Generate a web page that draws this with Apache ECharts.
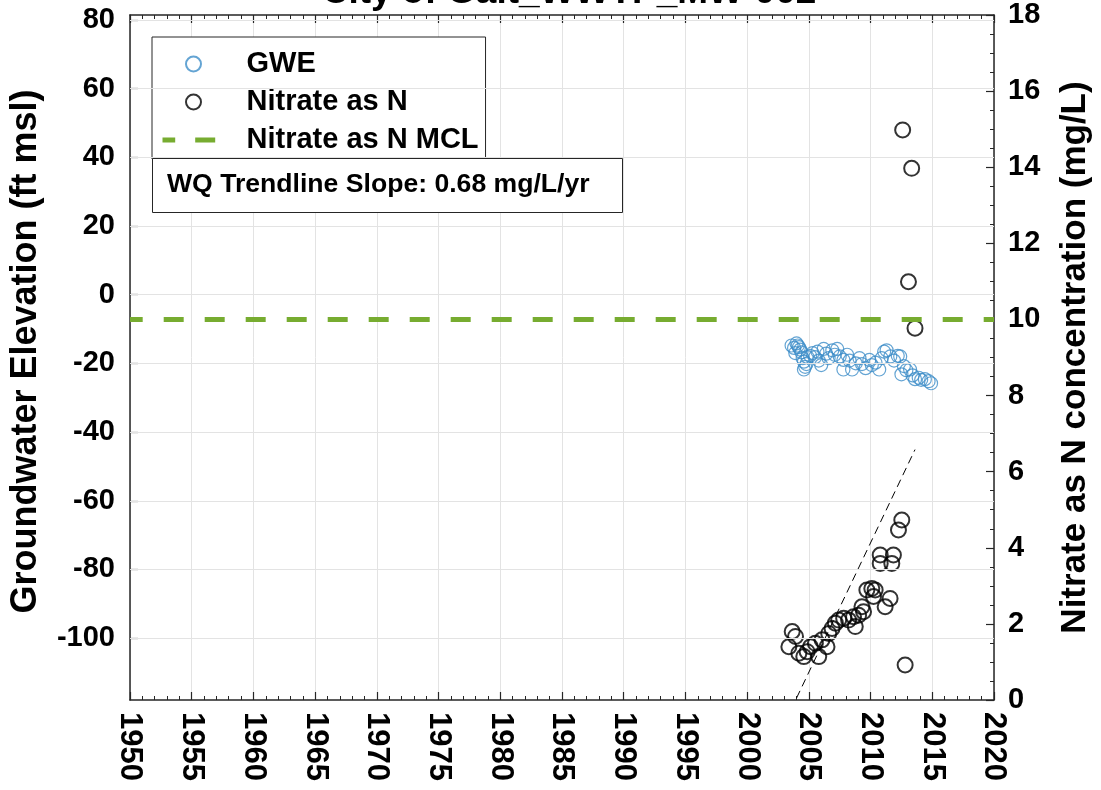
<!DOCTYPE html>
<html>
<head>
<meta charset="utf-8">
<script src="https://cdn.jsdelivr.net/npm/echarts@6/dist/echarts.min.js"></script>
<style>
html,body{margin:0;padding:0;background:#fff;}
#chart{width:1101px;height:790px;}
</style>
</head>
<body>
<div id="chart"></div>
<script>
// ---- data ----
const gweYears = [2003.6,2003.8,2003.9,2004.0,2004.1,2004.2,2004.3,2004.4,2004.5,2004.6,2004.7,2004.8,2004.6,2004.9,2005.1,2005.3,2005.5,2005.7,2005.8,2006.0,2006.2,2006.4,2006.6,2006.9,2007.1,2007.3,2007.5,2007.8,2007.8,2008.1,2008.3,2008.5,2008.8,2009.1,2009.3,2009.6,2009.9,2010.1,2010.4,2010.7,2010.9,2011.1,2011.3,2011.6,2011.9,2012.2,2012.4,2012.5,2012.7,2012.9,2013.2,2013.4,2013.6,2013.9,2014.1,2014.4,2014.7,2014.9];
const gweValues = [-14.8,-15.5,-17.0,-14.2,-14.8,-15.3,-16.0,-16.8,-18.5,-19.5,-21.0,-20.2,-21.8,-18.2,-17.8,-17.0,-18.2,-16.6,-19.2,-20.5,-15.8,-17.2,-18.5,-16.2,-17.5,-15.8,-18.0,-19.0,-21.8,-17.5,-19.2,-21.8,-20.0,-18.5,-20.2,-21.4,-19.0,-20.5,-19.8,-21.8,-18.5,-16.6,-16.2,-18.0,-19.2,-17.8,-18.0,-23.2,-20.8,-22.0,-21.8,-23.5,-24.6,-24.2,-24.8,-24.6,-25.2,-25.8];
const nitrateYears = [2003.65,2003.92,2003.38,2004.19,2004.59,2004.86,2005.13,2005.53,2005.8,2006.07,2006.47,2006.61,2006.88,2007.15,2007.42,2007.82,2008.22,2008.62,2008.76,2009.03,2009.3,2009.43,2009.7,2010.1,2010.37,2010.24,2011.18,2011.58,2010.78,2010.78,2011.85,2011.72,2012.26,2012.53,2012.8,2012.6,2013.33,2013.07,2013.6];
const nitrateValues = [1.80,1.67,1.40,1.23,1.14,1.27,1.40,1.49,1.14,1.58,1.40,1.75,1.88,2.02,2.10,2.15,2.10,2.19,1.93,2.23,2.45,2.32,2.89,2.93,2.89,2.72,2.45,2.67,3.81,3.59,3.81,3.59,4.47,4.73,0.92,14.98,13.97,10.99,9.77];
const trendYears = [2004.0, 2013.6];
const trendValues = [0.05, 6.58];
const mclYears = [1950, 2020];
const mclValue = 10;
const leftTicks = [-100,-80,-60,-40,-20,0,20,40,60,80];
const legendNames = ['GWE','Nitrate as N','Nitrate as N MCL'];
const slopeText = 'WQ Trendline Slope: 0.68 mg/L/yr';
const titleText = 'City of Galt_WWTP_MW-002';
const leftName = 'Groundwater Elevation (ft msl)';
const rightName = 'Nitrate as N concentration (mg/L)';

const FONT = "'Liberation Sans', Arial, sans-serif";
const AX = '#262626';
const GRID = '#e3e3e3';
const GREEN = '#77AC30';

const chart = echarts.init(document.getElementById('chart'), null, {renderer:'canvas'});
const gridL = 130, gridT = 15, gridR = 1101-998, gridB = 790-700;

const option = {
  backgroundColor: '#fff',
  animation: false,
  title: {
    text: titleText, left: 564, textAlign: 'center', top: -31,
    textStyle: {fontFamily: FONT, fontWeight: 'bold', fontSize: 37, color: '#000'}
  },
  grid: {left: gridL, top: gridT, right: gridR, bottom: gridB, containLabel: false},
  legend: {
    orient: 'vertical', left: 152, top: 37,
    data: [
      {name: legendNames[0]},
      {name: legendNames[1]},
      {name: legendNames[2], itemStyle: {opacity: 0}, lineStyle: {width: 5, color: GREEN, type: [20, 20], cap: 'butt'}}
    ],
    backgroundColor: '#fff', borderColor: AX, borderWidth: 1,
    padding: [12, 7, 4, 8],
    itemWidth: 62, itemHeight: 15, itemGap: 8,
    textStyle: {fontFamily: FONT, fontWeight: 'bold', fontSize: 29, color: '#000', lineHeight: 30, padding: [0,0,0,17]},
    selectedMode: false
  },
  xAxis: [{
    type: 'value', min: 1950, max: 2020, interval: 5, position: 'bottom',
    axisLine: {show: true, onZero: false, lineStyle: {color: AX, width: 1.5}},
    axisTick: {show: true, inside: true, length: 8, lineStyle: {color: AX, width: 1.2}},
    minorTick: {show: true, splitNumber: 5, length: 4, lineStyle: {color: AX, width: 1}},
    splitLine: {show: true, lineStyle: {color: GRID, width: 1}},
    axisLabel: {rotate: -90, margin: 12, fontFamily: FONT, fontWeight: 'bold', fontSize: 31, color: '#000', formatter: v => String(v)}
  },{
    type: 'value', min: 1950, max: 2020, interval: 5, position: 'top',
    axisLine: {show: true, onZero: false, lineStyle: {color: AX, width: 1.5}},
    axisTick: {show: true, inside: true, length: 8, lineStyle: {color: AX, width: 1.2}},
    minorTick: {show: true, splitNumber: 5, length: 4, lineStyle: {color: AX, width: 1}},
    splitLine: {show: false},
    axisLabel: {show: false}
  }],
  yAxis: [{
    type: 'value', min: -118, max: 81.4, position: 'left',
    name: leftName, nameLocation: 'middle', nameGap: 86, nameRotate: 90,
    nameTextStyle: {fontFamily: FONT, fontWeight: 'bold', fontSize: 36, color: '#000', padding: [0, 0, 0, 12]},
    axisLine: {show: true, onZero: false, lineStyle: {color: AX, width: 1.5}},
    axisTick: {show: true, inside: true, length: 8, customValues: leftTicks, lineStyle: {color: AX, width: 1.2}},
    axisLabel: {customValues: leftTicks, margin: 15, fontFamily: FONT, fontWeight: 'bold', fontSize: 29, color: '#000'},
    splitLine: {show: false}
  },{
    type: 'value', min: 0, max: 18, interval: 2, position: 'right',
    name: rightName, nameLocation: 'middle', nameGap: 64, nameRotate: 90,
    nameTextStyle: {fontFamily: FONT, fontWeight: 'bold', fontSize: 35, color: '#000'},
    axisLine: {show: true, onZero: false, lineStyle: {color: AX, width: 1.5}},
    axisTick: {show: true, inside: true, length: 8, lineStyle: {color: AX, width: 1.2}},
    minorTick: {show: true, splitNumber: 4, length: 4, lineStyle: {color: AX, width: 1}},
    axisLabel: {margin: 14, fontFamily: FONT, fontWeight: 'bold', fontSize: 29, color: '#000'},
    splitLine: {show: false}
  }],
  series: [{
    name: 'hgrid', type: 'line', yAxisIndex: 0, data: [], silent: true, z: 0,
    markLine: {
      silent: true, symbol: ['none','none'], label: {show: false}, animation: false,
      lineStyle: {color: GRID, width: 1, type: 'solid'},
      data: leftTicks.map(v => ({yAxis: v}))
    }
  },{
    name: 'GWE', type: 'scatter', yAxisIndex: 0,
    data: gweYears.map((x,i) => [x, gweValues[i]]),
    symbol: 'circle', symbolSize: 13,
    itemStyle: {color: 'rgba(0,0,0,0)', borderColor: '#3d8dc8', borderWidth: 1.2}
  },{
    name: 'Nitrate as N', type: 'scatter', yAxisIndex: 1,
    data: nitrateYears.map((x,i) => [x, nitrateValues[i]]),
    symbol: 'circle', symbolSize: 15,
    itemStyle: {color: 'rgba(0,0,0,0)', borderColor: '#000', borderWidth: 2}
  },{
    name: 'Nitrate as N MCL', type: 'line', yAxisIndex: 1,
    data: mclYears.map(x => [x, mclValue]),
    symbol: 'none', itemStyle: {color: GREEN},
    lineStyle: {color: GREEN, width: 5, type: [20, 21], dashOffset: 7.3, cap: 'butt'}
  },{
    name: 'trend', type: 'line', yAxisIndex: 1,
    data: trendYears.map((x,i) => [x, trendValues[i]]),
    symbol: 'none', silent: true,
    lineStyle: {color: '#000', width: 1, type: [8, 5]}
  }],
  graphic: [{
    type: 'rect', left: 152, top: 158, z: 100,
    shape: {x: 0, y: 0, width: 470, height: 54},
    style: {fill: '#fff', stroke: AX, lineWidth: 1}
  },{
    type: 'text', left: 167, top: 171, z: 101,
    style: {text: slopeText, fill: '#000', font: "bold 26.6px 'Liberation Sans', Arial, sans-serif"}
  }]
};
chart.setOption(option);
</script>
</body>
</html>
